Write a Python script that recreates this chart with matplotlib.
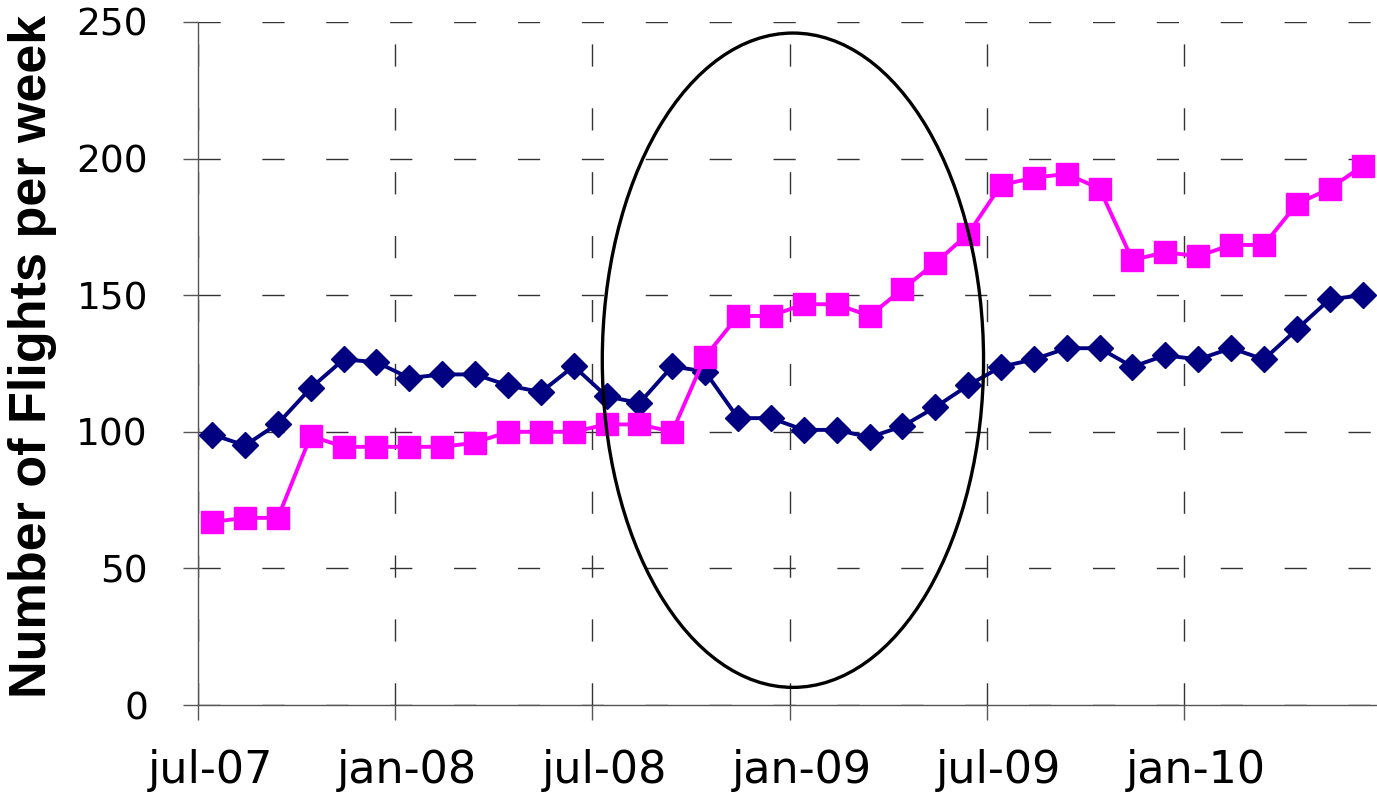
import matplotlib
matplotlib.use("Agg")
import matplotlib.pyplot as plt
import matplotlib.transforms as mtransforms
from matplotlib.patches import Ellipse
import numpy as np

# -------- data (monthly, jul-07 .. jun-10) --------
months = [f"{2007 + (6 + i) // 12}-{(6 + i) % 12 + 1:02d}" for i in range(36)]

flights_navy = [99, 95, 103, 116, 126.5, 125.5, 119.7, 121, 121, 117, 114.5, 124,
                113, 110.5, 124, 122, 105, 105, 100.7, 100.7, 98, 102, 109, 117,
                123.8, 126.5, 130.6, 130.6, 123.8, 128, 126.5, 130.6, 126.5, 137.5, 148.5, 150]

flights_magenta = [67, 68.5, 68.5, 98.5, 94.5, 94.5, 94.5, 94.5, 96, 100, 100, 100,
                   102.7, 102.7, 100, 127.5, 142.4, 142.4, 146.7, 146.7, 142.4, 152.2, 161.8, 172.4,
                   190.3, 193, 194.4, 189, 162.9, 165.7, 164.3, 168.4, 168.4, 183.4, 189, 197.3]

tick_labels = ["jul-07", "jan-08", "jul-08", "jan-09", "jul-09", "jan-10"]

# -------- chart --------
x = np.arange(len(months)) + 0.43   # values sit mid-month

fig = plt.figure(figsize=(13.77, 7.98), dpi=100)
ax = fig.add_axes([198 / 1377, 93 / 798, 1179 / 1377, 683 / 798])

ax.plot(x, flights_navy, color="#000080", lw=2.8, marker="D", ms=13.5,
        mec="#000080", clip_on=False, zorder=3)
ax.plot(x, flights_magenta, color="#FF00FF", lw=2.8, marker="s", ms=15.5,
        mec="#FF00FF", clip_on=False, zorder=4)

# highlight the 2008-09 period
ax.add_patch(Ellipse((18.1, 126.2), 11.6, 239.5, fill=False, ec="black", lw=2.4, zorder=5))

ax.set_xlim(0, 35.87)
ax.set_ylim(0, 250)
ax.set_xticks(np.arange(0, 36, 6))
ax.set_xticklabels(tick_labels)
ax.set_yticks(np.arange(0, 251, 50))

ax.grid(True, color="#333333", lw=1, linestyle=(0, (16, 30)))
ax.set_axisbelow(True)

for s in ["top", "right"]:
    ax.spines[s].set_visible(False)
for s in ["left", "bottom"]:
    ax.spines[s].set_color("#555555")
    ax.spines[s].set_linewidth(1)

ax.tick_params(axis="y", length=11, width=1, color="#555555", pad=25, labelsize=27)
ax.tick_params(axis="x", length=11, width=1, color="#555555", pad=21, labelsize=32)

# labels sit a bit to the right of their ticks
shift = mtransforms.ScaledTranslation(0.12, 0, fig.dpi_scale_trans)
for lab in ax.get_xticklabels():
    lab.set_fontfamily("DejaVu Sans")
    lab.set_transform(lab.get_transform() + shift)
for lab in ax.get_yticklabels():
    lab.set_fontfamily("DejaVu Sans")

ax.set_ylabel("Number of Flights per week", fontsize=37.5, fontweight="bold",
              fontfamily="Liberation Sans")
ax.yaxis.set_label_coords(-0.12, 0.51)

fig.savefig("out.png", dpi=100)
plt.close(fig)
